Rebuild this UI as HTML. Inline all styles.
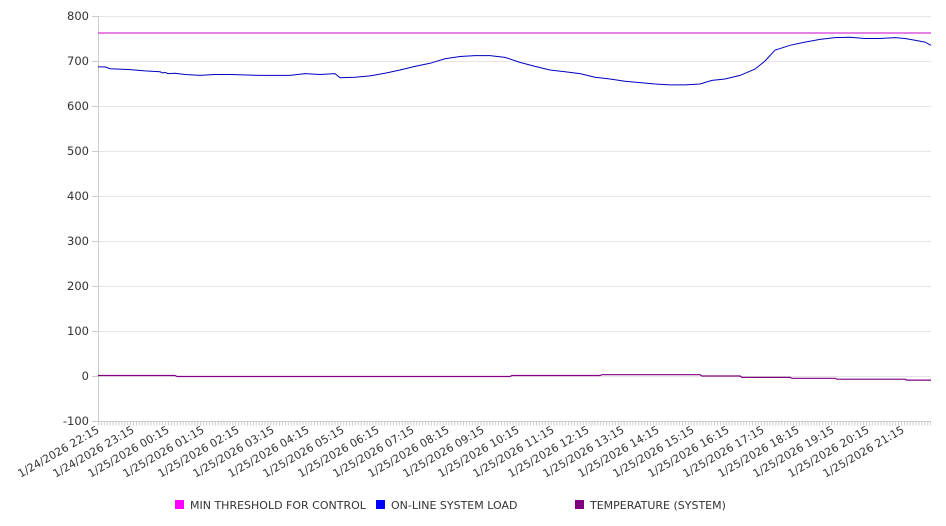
<!DOCTYPE html>
<html><head><meta charset="utf-8"><style>
body{margin:0;background:#fff}
svg{display:block;font-family:"DejaVu Sans","Liberation Sans",sans-serif}
</style></head><body>
<svg width="946" height="526" viewBox="0 0 946 526" xmlns="http://www.w3.org/2000/svg">
<g stroke="#e6e6e6" stroke-width="1">
<line x1="98" x2="931" y1="16.5" y2="16.5"/><line x1="98" x2="931" y1="61.5" y2="61.5"/>
<line x1="98" x2="931" y1="106.5" y2="106.5"/><line x1="98" x2="931" y1="151.5" y2="151.5"/>
<line x1="98" x2="931" y1="196.5" y2="196.5"/><line x1="98" x2="931" y1="241.5" y2="241.5"/>
<line x1="98" x2="931" y1="286.5" y2="286.5"/><line x1="98" x2="931" y1="331.5" y2="331.5"/>
<line x1="98" x2="931" y1="376.5" y2="376.5"/>
</g>
<g stroke="#ccc"><line x1="98.5" x2="98.5" y1="16" y2="421"/><line x1="92" x2="931" y1="421.5" y2="421.5"/>
<line x1="92" x2="98" y1="16.5" y2="16.5"/><line x1="92" x2="98" y1="61.5" y2="61.5"/><line x1="92" x2="98" y1="106.5" y2="106.5"/><line x1="92" x2="98" y1="151.5" y2="151.5"/><line x1="92" x2="98" y1="196.5" y2="196.5"/><line x1="92" x2="98" y1="241.5" y2="241.5"/><line x1="92" x2="98" y1="286.5" y2="286.5"/><line x1="92" x2="98" y1="331.5" y2="331.5"/><line x1="92" x2="98" y1="376.5" y2="376.5"/>
<line x1="98" x2="931" y1="423.5" y2="423.5" stroke-width="4" stroke-dasharray="1 1.92"/></g>
<g fill="#333" font-size="11.5" text-anchor="end">
<text x="89" y="20">800</text><text x="89" y="65">700</text><text x="89" y="110">600</text><text x="89" y="155">500</text><text x="89" y="200">400</text><text x="89" y="245">300</text><text x="89" y="290">200</text><text x="89" y="335">100</text><text x="89" y="380">0</text><text x="89" y="425">-100</text>
</g>
<g fill="#333" font-size="11" text-anchor="end">
<text transform="translate(100,432) rotate(-30)">1/24/2026 22:15</text>
<text transform="translate(135,432) rotate(-30)">1/24/2026 23:15</text>
<text transform="translate(170,432) rotate(-30)">1/25/2026 00:15</text>
<text transform="translate(205,432) rotate(-30)">1/25/2026 01:15</text>
<text transform="translate(240,432) rotate(-30)">1/25/2026 02:15</text>
<text transform="translate(275,432) rotate(-30)">1/25/2026 03:15</text>
<text transform="translate(310,432) rotate(-30)">1/25/2026 04:15</text>
<text transform="translate(345,432) rotate(-30)">1/25/2026 05:15</text>
<text transform="translate(380,432) rotate(-30)">1/25/2026 06:15</text>
<text transform="translate(415,432) rotate(-30)">1/25/2026 07:15</text>
<text transform="translate(450,432) rotate(-30)">1/25/2026 08:15</text>
<text transform="translate(485,432) rotate(-30)">1/25/2026 09:15</text>
<text transform="translate(520,432) rotate(-30)">1/25/2026 10:15</text>
<text transform="translate(555,432) rotate(-30)">1/25/2026 11:15</text>
<text transform="translate(590,432) rotate(-30)">1/25/2026 12:15</text>
<text transform="translate(625,432) rotate(-30)">1/25/2026 13:15</text>
<text transform="translate(660,432) rotate(-30)">1/25/2026 14:15</text>
<text transform="translate(695,432) rotate(-30)">1/25/2026 15:15</text>
<text transform="translate(730,432) rotate(-30)">1/25/2026 16:15</text>
<text transform="translate(765,432) rotate(-30)">1/25/2026 17:15</text>
<text transform="translate(800,432) rotate(-30)">1/25/2026 18:15</text>
<text transform="translate(835,432) rotate(-30)">1/25/2026 19:15</text>
<text transform="translate(870,432) rotate(-30)">1/25/2026 20:15</text>
<text transform="translate(905,432) rotate(-30)">1/25/2026 21:15</text>
</g>
<line x1="98" x2="931" y1="33" y2="33" stroke="#cc00cc" stroke-width="1"/>
<polyline fill="none" stroke="#0000c0" stroke-width="1" points="98,66.9 105,66.9 110,68.7 130,69.6 145,70.9 160,71.8 163,73 165,72.4 168,73.6 175,73.2 185,74.5 200,75.4 215,74.5 230,74.5 260,75.4 290,75.4 305,73.6 320,74.5 335,73.6 340,77.7 355,77.2 370,75.9 385,73.2 400,70 415,66.4 430,63.3 445,58.8 460,56.5 475,55.6 490,55.6 505,57.4 520,62.4 535,66.4 550,70 565,71.8 580,73.6 595,77.2 610,79 625,81.3 640,82.6 655,84 670,84.9 685,84.9 700,84 712,80.4 725,79 740,75.4 755,69.1 765,61 775,50.2 790,45.3 805,42.1 820,39.4 835,37.6 850,37.2 865,38.5 880,38.5 895,37.6 905,38.5 915,40.3 925,42.1 931,45.3"/>
<polyline fill="none" stroke="#800080" stroke-width="1.2" points="98,375.5 175,375.5 177,376.5 510,376.5 512,375.5 600,375.5 602,374.7 700,374.7 702,376 740,376 742,377.4 790,377.4 792,378.3 835,378.3 837,379.2 905,379.2 907,380.1 931,380.1"/>
<g font-size="11" fill="#333">
<rect x="175" y="500" width="9" height="9" fill="#ff00ff"/><text x="190" y="509">MIN THRESHOLD FOR CONTROL</text>
<rect x="376" y="500" width="9" height="9" fill="#0000ff"/><text x="391" y="509">ON-LINE SYSTEM LOAD</text>
<rect x="575" y="500" width="9" height="9" fill="#800080"/><text x="590" y="509">TEMPERATURE (SYSTEM)</text>
</g>
</svg>
</body></html>
